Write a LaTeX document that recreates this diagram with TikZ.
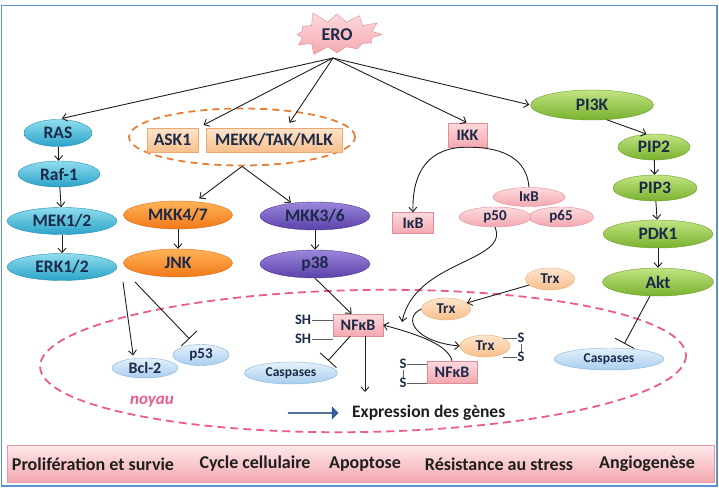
\documentclass[tikz,border=0pt]{standalone}
\usepackage{fontspec}
\setmainfont{Carlito}
\usepackage{tikz}
\usetikzlibrary{arrows.meta,calc,positioning,shapes.geometric,shapes.symbols,shapes.arrows}

\definecolor{ink}{HTML}{1B2A48}
\definecolor{linecol}{HTML}{1E1E1E}
\definecolor{cyantop}{HTML}{8FDDEE}
\definecolor{cyanbot}{HTML}{2BA3C8}
\definecolor{cyanline}{HTML}{2A8FB3}
\definecolor{orangetop}{HTML}{FFB45A}
\definecolor{orangebot}{HTML}{F07818}
\definecolor{orangeline}{HTML}{E06A12}
\definecolor{purpletop}{HTML}{9C86DC}
\definecolor{purplebot}{HTML}{5A42A8}
\definecolor{purpleline}{HTML}{4E3A96}
\definecolor{greentop}{HTML}{C2E482}
\definecolor{greenbot}{HTML}{79B12E}
\definecolor{greenline}{HTML}{6A9E2A}
\definecolor{pinktop}{HTML}{FCDADD}
\definecolor{pinkbot}{HTML}{F4A8B0}
\definecolor{pinkline}{HTML}{DE8C96}
\definecolor{bluetop}{HTML}{E4F1FB}
\definecolor{bluebot}{HTML}{A9CDEE}
\definecolor{blueline}{HTML}{86B3DE}
\definecolor{peachtop}{HTML}{FDE5CC}
\definecolor{peachbot}{HTML}{F8BF8C}
\definecolor{peachline}{HTML}{EBA872}
\definecolor{nucleuscol}{HTML}{EC5A8E}
\definecolor{framecol}{HTML}{5B95D0}
\definecolor{barline}{HTML}{E59AA6}
\definecolor{arrowblue}{HTML}{2F64A8}

\tikzset{
  base/.style={inner sep=0pt, text=ink, font=\fontsize{17.5}{19}\selectfont\bfseries},
  small/.style={font=\fontsize{15}{17}\selectfont\bfseries},
  tiny/.style={font=\fontsize{13.5}{15}\selectfont\bfseries},
  cyanell/.style={base, ellipse, draw=cyanline, top color=cyantop, bottom color=cyanbot},
  orangeell/.style={base, ellipse, draw=orangeline, top color=orangetop, bottom color=orangebot},
  purpleell/.style={base, ellipse, draw=purpleline, top color=purpletop, bottom color=purplebot},
  greenell/.style={base, ellipse, draw=greenline, top color=greentop, bottom color=greenbot},
  pinkell/.style={base, small, ellipse, draw=pinkline, top color=pinktop, bottom color=pinkbot},
  blueell/.style={base, small, ellipse, draw=blueline, top color=bluetop, bottom color=bluebot},
  peachell/.style={base, small, ellipse, draw=peachline, top color=peachtop, bottom color=peachbot},
  peachbox/.style={base, rectangle, draw=peachline, top color=peachtop, bottom color=peachbot},
  pinkbox/.style={base, rectangle, draw=pinkline, top color=pinktop, bottom color=pinkbot,
    font=\fontsize{16}{18}\selectfont\bfseries},
  label/.style={inner sep=1pt, text=ink, font=\fontsize{14.5}{16}\selectfont\bfseries},
  act/.style={->, line width=0.9pt, draw=linecol},
  inh/.style={-{Bar[width=22pt]}, line width=0.9pt, draw=linecol},
  link/.style={line width=0.6pt, draw=linecol!70},
  efftext/.style={inner sep=0pt, text=linecol, font=\fontsize{18}{20}\selectfont\bfseries},
}

\begin{document}
\begin{tikzpicture}[>={Straight Barb[length=4.5pt,width=8pt]}, x=1pt, y=-1pt]
  \useasboundingbox (0,0) rectangle (719,487);
  % frame
  \draw[framecol, line width=1.5pt] (1.5,5.5) rectangle (717,486);

  % nucleus
  \draw[nucleuscol, line width=1.8pt, dash pattern=on 8pt off 5pt,
    rotate around={1:(363,361)}] (363,361) ellipse [x radius=323, y radius=71];
  \node[text=nucleuscol, font=\fontsize{17}{19}\selectfont\bfseries\itshape] (noyau) at (152,402) {noyau};

  % effects bar
  \node[rectangle, draw=barline, line width=1pt, top color=pinktop!60, bottom color=pinkbot,
    minimum width=707pt, minimum height=37pt] (effbar) at (360.5,463.5) {};
  \node[efftext] (prolif) at (93,464) {Prolifération et survie};
  \node[efftext] (cycle) at (255,464) {Cycle cellulaire};
  \node[efftext] (apop) at (365,464) {Apoptose};
  \node[efftext] (stress) at (499,464) {Résistance au stress};
  \node[efftext] (angio) at (647,464) {Angiogenèse};

  % ERO
  \node[starburst, starburst points=12, starburst point height=13pt, random starburst=5,
    draw=pinkline, top color=pinktop, bottom color=pinkbot, inner xsep=10pt, inner ysep=3pt,
    text=ink, font=\fontsize{18}{20}\selectfont\bfseries] (ero) at (337,34.5) {ERO};
  \coordinate (erobot) at (333,58);

  % MAP kinases
  \node[cyanell, minimum width=68pt, minimum height=27pt] (ras) at (58,133) {RAS};
  \node[cyanell, minimum width=82pt, minimum height=26pt] (raf) at (59,174) {Raf-1};
  \node[cyanell, minimum width=110pt, minimum height=27pt] (mek) at (62,221) {MEK1/2};
  \node[cyanell, minimum width=110pt, minimum height=27pt] (erk) at (62,267) {ERK1/2};

  \node[ellipse, draw=orangeline!85, line width=1.8pt, dash pattern=on 7pt off 5pt,
    minimum width=226pt, minimum height=57pt] (kkk) at (242,137) {};
  \node[peachbox, minimum width=51pt, minimum height=24pt] (ask) at (172.5,140) {ASK1};
  \node[peachbox, minimum width=136pt, minimum height=24pt] (mekk) at (274,140) {MEKK/TAK/MLK};

  \node[orangeell, minimum width=109pt, minimum height=28pt] (mkkb) at (178,215) {MKK4/7};
  \node[purpleell, minimum width=110pt, minimum height=28pt] (mkka) at (315,216) {MKK3/6};
  \node[orangeell, minimum width=109pt, minimum height=28pt] (jnk) at (178,263) {JNK};
  \node[purpleell, minimum width=110pt, minimum height=28pt] (p38) at (315,264) {p38};

  % NF-kB
  \node[pinkbox, minimum width=39pt, minimum height=24pt] (ikk) at (467.5,135) {IKK};
  \node[pinkbox, minimum width=41pt, minimum height=21pt] (ikb) at (413,223) {IκB};
  \node[pinkell, minimum width=72pt, minimum height=19pt] (ikbc) at (529,197) {IκB};
  \node[pinkell, minimum width=65pt, minimum height=20pt] (p65) at (561,217) {p65};
  \node[pinkell, minimum width=72pt, minimum height=20pt] (p50) at (495,217) {p50};

  % PI3K
  \node[greenell, minimum width=123pt, minimum height=30pt] (pi3k) at (592,105) {PI3K};
  \node[greenell, minimum width=72pt, minimum height=26pt] (pip2) at (654,147) {PIP2};
  \node[greenell, minimum width=84pt, minimum height=26pt] (pip3) at (655,188) {PIP3};
  \node[greenell, minimum width=110pt, minimum height=28pt] (pdk1) at (658,234) {PDK1};
  \node[greenell, minimum width=111pt, minimum height=28pt] (akt) at (658,282) {Akt};

  % targets
  \node[blueell, font=\fontsize{16}{18}\selectfont\bfseries, minimum width=66pt, minimum height=20pt] (bcl) at (145,368) {Bcl-2};
  \node[blueell, minimum width=56pt, minimum height=21pt] (p53) at (201,355) {p53};
  \node[blueell, tiny, minimum width=93pt, minimum height=22pt] (caspl) at (291,373) {Caspases};
  \node[blueell, tiny, minimum width=110pt, minimum height=22pt] (caspr) at (609,359) {Caspases};

  \node[pinkbox, minimum width=50pt, minimum height=22pt] (nfa) at (358,325) {NFκB};
  \node[pinkbox, minimum width=50pt, minimum height=22pt] (nfb) at (452,372) {NFκB};
  \node[peachell, minimum width=49pt, minimum height=22pt] (trxa) at (550,279) {Trx};
  \node[peachell, minimum width=49pt, minimum height=22pt] (trxb) at (446,309) {Trx};
  \node[peachell, minimum width=50pt, minimum height=22pt] (trxc) at (485,346) {Trx};

  \node[label] (sh1) at (303,320) {SH};
  \node[label] (sh2) at (303,339) {SH};
  \node[label, inner sep=0.5pt] (sa1) at (521,338) {S};
  \node[label, inner sep=0.5pt] (sa2) at (521,357) {S};
  \node[label, inner sep=0.5pt] (sb1) at (403,364) {S};
  \node[label, inner sep=0.5pt] (sb2) at (403,383) {S};

  \node[single arrow, draw=arrowblue!70!black, fill=arrowblue, minimum width=12pt, minimum height=50pt,
    single arrow head extend=3pt, inner sep=0pt] (bigarrow) at (313,413) {};
  \node[anchor=west, inner sep=0pt, text=linecol, font=\fontsize{17.5}{19}\selectfont\bfseries]
    (expr) at (352,413) {Expression des gènes};

  \coordinate (erkout) at (123,282);
  \coordinate (jnkout) at (135,282);
  \coordinate (nfdown) at (365,392);
  \coordinate (nfin) at (402,322);

  % arrows from ERO
  \draw[act, shorten >=4pt] (erobot) -- (ras.north);
  \draw[act, shorten >=6pt] (erobot) -- (ask.north east);
  \draw[act, shorten >=6pt] (erobot) -- (mekk.45);
  \draw[act, shorten >=1pt] (erobot) -- (ikk.north);
  \draw[act, shorten >=1pt] (erobot) -- (pi3k.west);

  % cascades
  \draw[act] (ras) -- (raf);
  \draw[act] (raf) -- (mek);
  \draw[act] (mek) -- (erk);
  \draw[act, shorten >=5pt] (kkk.south) -- (mkkb.38);
  \draw[act, shorten >=1pt] (kkk.south) -- (mkka.151);
  \draw[act] (mkkb) -- (jnk);
  \draw[act] (mkka) -- (p38);
  \draw[act] (pi3k.315) -- (pip2.120);
  \draw[act] (pip2) -- (pip3);
  \draw[act] (pip3) -- (pdk1);
  \draw[act] (pdk1) -- (akt);

  \draw[act, shorten >=3pt] (erkout) -- (bcl.140);
  \draw[inh, shorten >=8pt] (jnkout) -- (p53.120);
  \draw[act] (p38.south) -- (nfa.120);
  \draw[inh, shorten >=6pt] (nfa.235) -- (caspl.north east);
  \draw[inh, shorten >=5pt] (akt.240) -- (caspr.40);
  \draw[act] (nfdown |- nfa.south) -- (nfdown);

  % IKK / IkB
  \draw[line width=0.9pt, draw=linecol] (ikbc.north) .. controls (527,160) and (505,147) .. (ikk.south);
  \draw[act] (ikk.south) .. controls (430,147) and (412,170) .. (ikb.north);
  \draw[act] (p50.south) .. controls (510,262) and (415,260) .. (nfin);

  % Trx
  \draw[act] (trxa) -- (trxb);
  \draw[act] (trxb.west) .. controls (402,318) and (415,342) .. (trxc.west);
  \draw[act] (nfb.north) .. controls (448,345) and (420,335) .. (nfa.east);

  % thiols
  \draw[link] (sh1.east) -- (sh1.east -| nfa.west);
  \draw[link] (sh2.east) -- (sh2.east -| nfa.west);
  \draw[link] (trxc.north east |- sa1.west) -- (sa1.west);
  \draw[link] (trxc.south east |- sa2.west) -- (sa2.west);
  \draw[link] (sa1.south) -- (sa2.north);
  \draw[link] (sb1.east) -- (sb1.east -| nfb.west);
  \draw[link] (sb2.east) -- (sb2.east -| nfb.west);
  \draw[link] (sb1.south) -- (sb2.north);
\end{tikzpicture}
\end{document}
